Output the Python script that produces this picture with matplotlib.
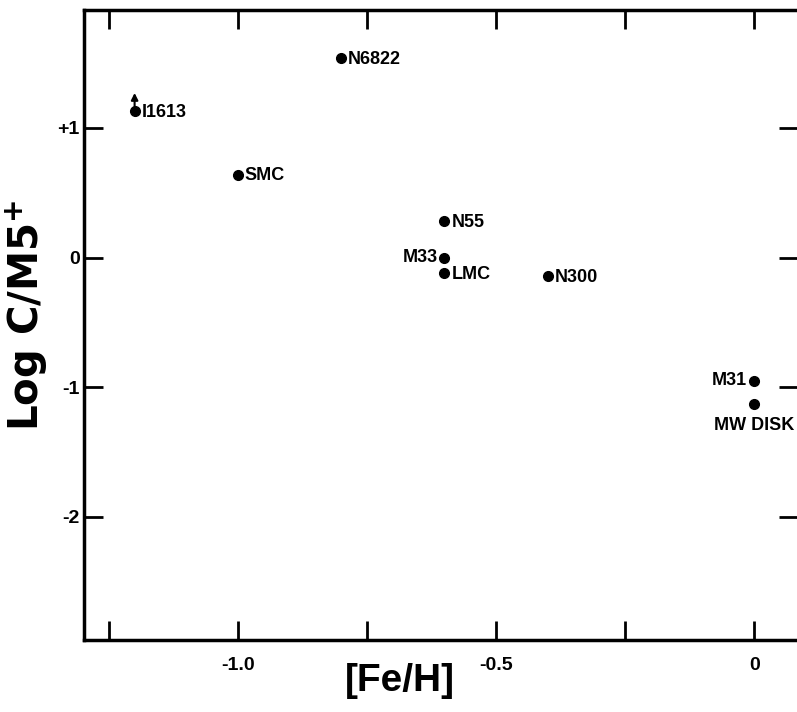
import matplotlib
matplotlib.use("Agg")
import matplotlib.pyplot as plt

plt.rcParams['font.family'] = ['Liberation Sans', 'DejaVu Sans']
plt.rcParams['font.weight'] = 'bold'
plt.rcParams['axes.unicode_minus'] = False

# galaxies: [Fe/H] vs log C/M5+
names = ['I1613', 'N6822', 'SMC', 'N55', 'M33', 'LMC', 'N300', 'M31', 'MW DISK']
feh = [-1.2, -0.8, -1.0, -0.6, -0.6, -0.6, -0.4, 0.0, 0.0]
logcm = [1.13, 1.54, 0.64, 0.28, 0.0, -0.12, -0.14, -0.95, -1.13]
# where each label sits relative to its point
label_side = ['right', 'right', 'right', 'right', 'left', 'right', 'right', 'left', 'below']

xticks = [-1.25, -1.0, -0.75, -0.5, -0.25, 0.0]
xticklabels = ['', '-1.0', '', '-0.5', '', '0']
yticks = [1, 0, -1, -2]
yticklabels = ['+1', '0', '-1', '-2']

fig = plt.figure(figsize=(7.97, 7.12), dpi=100)
ax = fig.add_axes([0.1054, 0.1011, 0.8960, 0.8849])

ax.plot(feh, logcm, 'o', color='black', markersize=7, linestyle='none')

for n, x, y, side in zip(names, feh, logcm, label_side):
    if side == 'right':
        ax.annotate(n, (x, y), xytext=(5, -1), textcoords='offset points',
                    ha='left', va='center', fontsize=13, fontweight='bold')
    elif side == 'left':
        ax.annotate(n, (x, y), xytext=(-5, 0), textcoords='offset points',
                    ha='right', va='center', fontsize=13, fontweight='bold')
    else:
        ax.annotate(n, (x, y), xytext=(0, -9), textcoords='offset points',
                    ha='center', va='top', fontsize=13, fontweight='bold')

# lower-limit arrow on I1613
ax.annotate('', xy=(feh[0], logcm[0] + 0.14), xytext=(feh[0], logcm[0]),
            arrowprops=dict(arrowstyle='-|>', color='black', lw=1.5,
                            mutation_scale=10, shrinkA=0, shrinkB=0))

ax.set_xlim(-1.298, 0.085)
ax.set_ylim(-2.95, 1.91)

ax.set_xticks(xticks)
ax.set_xticklabels(xticklabels, fontsize=14, fontweight='bold')
ax.set_yticks(yticks)
ax.set_yticklabels(yticklabels, fontsize=14, fontweight='bold')
ax.tick_params(direction='in', length=14, width=2, top=True, right=True)
ax.tick_params(axis='x', pad=12)
ax.tick_params(axis='y', pad=3)

for s in ax.spines.values():
    s.set_linewidth(2.5)

ax.set_xlabel('[Fe/H]', fontsize=28, fontweight='bold')
ax.xaxis.set_label_coords(0.443, -0.036)
ax.set_ylabel(r'Log C/M5$^{\mathbf{+}}$', fontsize=29, fontweight='bold',
              family=['DejaVu Sans'])
ax.yaxis.set_label_coords(-0.048, 0.516)

fig.savefig('out.png', dpi=100)
